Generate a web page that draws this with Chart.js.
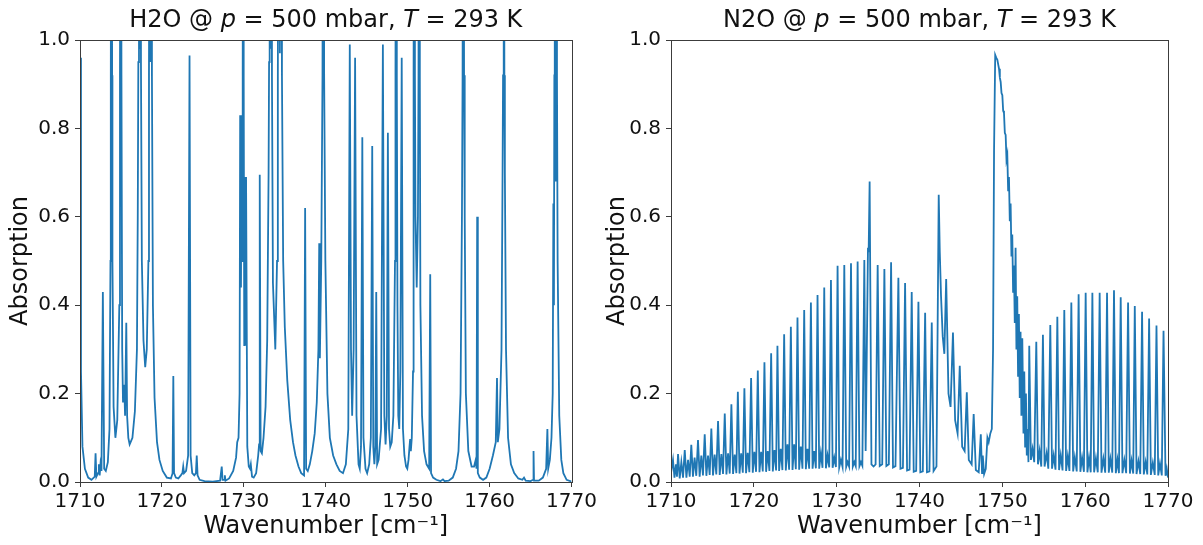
<!DOCTYPE html>
<html><head><meta charset="utf-8">
<script src="https://cdn.jsdelivr.net/npm/chart.js@4"></script>
<style>
html,body{margin:0;padding:0;background:#fff;}
#wrap{position:relative;width:1203px;height:545px;overflow:hidden;}
.box{position:absolute;top:0;height:545px;}
</style></head><body>
<div id="wrap">
<div class="box" style="left:0;width:600px"><canvas id="c1" width="600" height="545"></canvas></div>
<div class="box" style="left:600px;width:603px"><canvas id="c2" width="603" height="545"></canvas></div>
</div>
<script>
// ---- tick values ----
const wavenumberTicks = [1710, 1720, 1730, 1740, 1750, 1760, 1770];
const absorptionTicks = [0, 0.2, 0.4, 0.6, 0.8, 1.0];

// ---- H2O spectrum: [wavenumber (cm^-1), absorption] ----
const h2oSpectrum = [
[1710.00,0.96],[1710.12,0.25],[1710.3,0.08],[1710.6,0.03],[1711.0,0.01],[1711.4,0.005],[1711.8,0.012],[1711.9,0.065],[1712.0,0.012],
[1712.2,0.02],[1712.3,0.04],[1712.4,0.015],[1712.5,0.04],[1712.62,0.025],[1712.79,0.43],[1712.95,0.03],[1713.15,0.025],[1713.4,0.045],
[1713.6,0.12],[1713.72,0.5],[1713.76,0.92],[1713.84,2.0],[1713.92,0.92],[1713.96,0.5],[1714.1,0.17],[1714.32,0.10],[1714.55,0.14],
[1714.8,0.4],[1714.88,0.92],[1714.97,2.0],[1715.06,0.92],[1715.15,0.3],
[1715.25,0.18],[1715.4,0.22],[1715.5,0.15],[1715.65,0.36],[1715.75,0.15],[1715.9,0.1],[1716.06,0.085],[1716.4,0.1],
[1716.7,0.16],[1716.95,0.3],[1717.05,0.6],[1717.12,0.95],[1717.2,2.0],[1717.28,0.98],[1717.36,2.0],[1717.44,0.95],[1717.55,0.5],
[1717.75,0.32],[1717.96,0.26],[1718.15,0.3],[1718.35,0.5],[1718.42,0.92],[1718.5,2.0],[1718.6,0.95],[1718.7,2.0],[1718.78,0.92],
[1718.9,0.4],[1719.1,0.19],[1719.4,0.09],[1719.7,0.05],
[1720.1,0.025],[1720.6,0.01],[1721.1,0.008],[1721.3,0.02],[1721.39,0.24],[1721.48,0.02],[1721.7,0.01],[1722.0,0.008],[1722.3,0.015],
[1722.5,0.02],[1722.6,0.035],[1722.7,0.02],[1722.95,0.025],[1723.2,0.06],[1723.37,0.965],[1723.5,0.06],[1723.7,0.02],[1723.95,0.015],
[1724.15,0.02],[1724.25,0.06],[1724.35,0.015],[1724.6,0.005],[1725.2,0.002],[1726.2,0.001],[1727.1,0.003],[1727.3,0.035],[1727.4,0.005],
[1727.6,0.005],[1727.68,0.015],[1727.76,0.003],[1728.2,0.008],[1728.7,0.025],[1729.05,0.055],[1729.19,0.09],[1729.35,0.1],[1729.48,0.2],
[1729.55,0.83],[1729.65,0.44],[1729.72,0.8],[1729.8,0.5],[1729.86,0.92],[1729.92,2.0],[1729.98,0.92],[1730.05,0.31],[1730.12,0.69],
[1730.2,0.31],[1730.27,0.69],
[1730.42,0.08],[1730.6,0.035],[1730.75,0.03],[1730.85,0.04],[1731.0,0.012],[1731.2,0.01],[1731.5,0.02],[1731.75,0.06],[1731.86,0.085],
[1731.94,0.695],[1732.05,0.07],[1732.2,0.065],[1732.4,0.1],[1732.65,0.17],[1732.85,0.32],[1733.02,0.7],[1733.08,0.95],[1733.15,2.0],
[1733.25,0.98],[1733.35,2.0],[1733.43,0.92],[1733.55,0.45],[1733.84,0.30],[1734.05,0.5],[1734.15,0.92],[1734.25,2.0],[1734.4,0.97],
[1734.55,2.0],[1734.65,0.92],[1734.8,0.5],[1735.0,0.35],
[1735.3,0.23],[1735.66,0.14],[1736.0,0.09],[1736.3,0.06],[1736.67,0.035],[1737.0,0.02],[1737.35,0.015],[1737.48,0.62],[1737.6,0.03],
[1737.8,0.025],[1738.05,0.04],[1738.35,0.07],[1738.65,0.11],[1738.9,0.18],[1739.1,0.3],[1739.2,0.54],[1739.28,0.28],[1739.45,0.5],
[1739.6,0.92],[1739.7,2.0],[1739.8,0.92],[1739.95,0.5],[1740.2,0.2],[1740.5,0.1],[1740.9,0.06],[1741.3,0.04],[1741.7,0.025],[1742.1,0.02],
[1742.45,0.04],
[1742.75,0.12],[1742.93,0.99],[1743.08,0.3],[1743.22,0.15],[1743.4,0.3],[1743.58,0.96],[1743.75,0.15],[1744.0,0.04],[1744.15,0.03],
[1744.3,0.08],[1744.46,0.78],[1744.6,0.1],[1744.85,0.03],[1745.05,0.02],[1745.3,0.04],[1745.5,0.1],[1745.67,0.76],[1745.8,0.08],
[1745.93,0.04],[1746.05,0.08],[1746.16,0.43],[1746.27,0.04],[1746.45,0.05],[1746.75,0.12],[1746.97,0.99],[1747.15,0.15],[1747.3,0.085],
[1747.45,0.15],[1747.58,0.79],[1747.72,0.12],[1747.87,0.08],[1748.05,0.09],[1748.25,0.15],[1748.45,0.5],[1748.51,0.92],[1748.59,2.0],
[1748.67,0.92],[1748.75,0.4],
[1748.85,0.15],[1748.97,0.12],[1749.1,0.25],[1749.27,0.96],[1749.42,0.12],[1749.6,0.06],[1749.8,0.035],[1749.95,0.03],[1750.1,0.05],
[1750.22,0.08],[1750.3,0.097],[1750.38,0.07],[1750.5,0.1],[1750.65,0.25],[1750.72,0.92],[1750.8,2.0],[1750.88,0.92],[1750.95,0.6],
[1751.1,0.44],[1751.25,0.6],[1751.32,0.92],[1751.4,2.0],[1751.48,0.92],[1751.55,0.4],[1751.75,0.15],[1752.0,0.07],[1752.3,0.04],
[1752.62,0.03],[1752.75,0.47],[1752.85,0.02],[1753.1,0.01],
[1753.5,0.005],[1754.0,0.002],[1754.3,0.006],[1754.5,0.002],[1755.0,0.003],[1755.5,0.01],[1755.9,0.03],[1756.2,0.07],[1756.45,0.2],
[1756.62,0.6],[1756.7,0.92],[1756.79,2.0],[1756.88,0.92],[1756.96,0.6],[1757.1,0.2],[1757.4,0.07],[1757.8,0.035],[1758.1,0.035],
[1758.3,0.05],[1758.4,0.03],
[1758.48,0.6],[1758.56,0.02],[1758.8,0.01],[1759.2,0.005],[1759.6,0.01],[1760.0,0.03],[1760.4,0.06],[1760.75,0.09],[1760.9,0.235],
[1761.0,0.09],[1761.2,0.12],[1761.45,0.3],[1761.58,0.7],[1761.64,0.92],[1761.72,2.0],[1761.8,0.92],[1761.86,0.7],[1762.0,0.3],
[1762.25,0.1],[1762.6,0.04],
[1763.0,0.02],[1763.5,0.008],[1764.0,0.005],[1764.2,0.01],[1764.4,0.003],[1765.0,0.002],[1765.3,0.005],[1765.36,0.07],[1765.42,0.003],
[1766.0,0.003],[1766.5,0.01],[1766.9,0.03],[1767.05,0.12],[1767.15,0.03],[1767.35,0.05],[1767.55,0.1],[1767.7,0.2],[1767.78,0.63],
[1767.85,0.4],[1767.9,0.92],[1767.95,2.0],[1768.05,0.68],[1768.15,2.0],[1768.22,0.92],[1768.3,0.5],[1768.5,0.15],[1768.75,0.05],
[1769.0,0.02],[1769.4,0.005],
[1770.0,0.001]
];

// ---- N2O spectrum: [wavenumber (cm^-1), absorption] ----
const n2oSpectrum = [
[1710.00,0.02],[1710.24,0.05],[1710.42,0.01],[1710.6,0.04],[1710.72,0.012],
[1710.85,0.063],[1711.05,0.008],[1711.25,0.045],[1711.45,0.01],
[1711.66,0.072],[1711.86,0.01],[1712.06,0.05],[1712.26,0.012],
[1712.45,0.084],[1712.65,0.012],[1712.85,0.055],[1713.05,0.014],
[1713.26,0.095],[1713.46,0.012],[1713.66,0.06],[1713.86,0.015],
[1714.07,0.108],[1714.27,0.014],[1714.47,0.06],[1714.67,0.016],
[1714.87,0.121],[1715.07,0.015],[1715.27,0.062],[1715.47,0.017],
[1715.68,0.138],[1715.88,0.016],[1716.08,0.063],[1716.28,0.018],
[1716.49,0.155],[1716.69,0.017],[1716.89,0.065],[1717.09,0.019],
[1717.29,0.176],[1717.49,0.018],[1717.69,0.062],[1717.89,0.02],
[1718.07,0.204],[1718.27,0.019],[1718.47,0.065],[1718.67,0.021],
[1718.86,0.212],[1719.06,0.02],[1719.26,0.066],[1719.46,0.022],
[1719.67,0.235],[1719.87,0.021],[1720.07,0.068],[1720.27,0.023],
[1720.48,0.252],[1720.68,0.022],[1720.88,0.068],[1721.08,0.024],
[1721.28,0.271],[1721.48,0.023],[1721.68,0.07],[1721.88,0.025],
[1722.09,0.291],[1722.29,0.024],[1722.49,0.072],[1722.69,0.026],
[1722.85,0.308],[1723.05,0.025],[1723.25,0.075],[1723.45,0.027],
[1723.66,0.334],[1723.86,0.026],[1724.06,0.085],[1724.26,0.028],
[1724.47,0.351],[1724.67,0.027],[1724.87,0.085],[1725.07,0.029],
[1725.27,0.372],[1725.47,0.028],[1725.67,0.08],[1725.87,0.03],
[1726.08,0.389],[1726.28,0.029],[1726.48,0.075],[1726.68,0.03],
[1726.89,0.406],[1727.09,0.03],[1727.29,0.07],[1727.49,0.031],
[1727.69,0.423],[1727.89,0.03],[1728.09,0.065],[1728.29,0.032],
[1728.50,0.44],[1728.7,0.031],[1728.9,0.06],[1729.1,0.033],
[1729.31,0.457],[1729.51,0.032],[1729.71,0.055],[1729.91,0.034],
[1730.11,0.489],[1730.31,0.033],[1730.51,0.05],[1730.71,0.034],
[1730.92,0.491],[1731.15,0.034],[1731.32,0.045],[1731.5,0.035],
[1731.73,0.495],[1731.95,0.035],[1732.13,0.045],[1732.3,0.036],
[1732.53,0.499],[1732.75,0.036],[1732.93,0.045],[1733.1,0.037],
[1733.34,0.502],[1733.5,0.07],[1733.78,0.53],[1733.86,0.52],[1733.98,0.68],[1734.2,0.04],[1734.45,0.035],[1734.7,0.04],
[1734.95,0.491],[1735.2,0.036],[1735.5,0.04],
[1735.76,0.482],[1736.0,0.036],[1736.3,0.04],
[1736.57,0.497],[1736.8,0.033],[1737.1,0.036],
[1737.45,0.462],[1737.7,0.03],[1738.0,0.032],
[1738.26,0.45],[1738.5,0.026],[1738.8,0.028],
[1739.06,0.43],[1739.3,0.023],[1739.6,0.025],
[1739.87,0.408],[1740.1,0.022],[1740.4,0.024],
[1740.68,0.383],[1740.9,0.022],[1741.2,0.024],
[1741.48,0.361],[1741.7,0.025],[1742.05,0.035],
[1742.32,0.65],[1742.45,0.52],[1742.6,0.42],[1742.8,0.33],[1743.0,0.29],
[1743.22,0.459],[1743.5,0.2],[1743.75,0.17],
[1744.04,0.338],[1744.3,0.14],[1744.6,0.11],
[1744.86,0.263],[1745.15,0.08],[1745.45,0.07],
[1745.71,0.203],[1745.95,0.05],[1746.3,0.04],
[1746.54,0.154],[1746.8,0.027],[1747.15,0.022],
[1747.40,0.108],[1747.55,0.02],[1747.64,0.06],[1747.8,0.018],[1748.0,0.03],[1748.2,0.1],[1748.35,0.09],[1748.55,0.11],
[1748.73,0.12],[1748.88,0.3],[1749.0,0.75],[1749.14,0.966],[1749.26,0.96],
[1749.40,0.955],[1749.50,0.945],[1749.60,0.935],[1749.70,0.915],[1749.80,0.905],[1749.90,0.88],[1750.00,0.875],[1750.10,0.84],
[1750.20,0.835],[1750.30,0.79],[1750.40,0.785],[1750.50,0.73],[1750.60,0.74],[1750.70,0.66],[1750.80,0.69],[1750.90,0.59],
[1751.00,0.63],[1751.10,0.51],[1751.20,0.56],[1751.30,0.43],[1751.40,0.49],[1751.50,0.36],[1751.60,0.53],[1751.70,0.30],
[1751.80,0.42],[1751.90,0.24],[1752.00,0.38],[1752.10,0.19],[1752.20,0.34],[1752.30,0.15],
[1752.41,0.325],[1752.55,0.11],[1752.65,0.25],[1752.75,0.08],[1752.85,0.2],[1752.95,0.06],[1753.05,0.12],[1753.15,0.045],
[1753.25,0.308],[1753.45,0.05],[1753.65,0.075],[1753.85,0.045],
[1754.10,0.317],[1754.3,0.04],[1754.5,0.07],[1754.7,0.035],
[1754.90,0.333],[1755.1,0.035],[1755.35,0.065],[1755.55,0.03],
[1755.79,0.355],[1756.0,0.03],[1756.2,0.06],[1756.42,0.028],
[1756.64,0.374],[1756.85,0.027],[1757.05,0.06],[1757.27,0.026],
[1757.48,0.389],[1757.7,0.025],[1757.9,0.058],[1758.1,0.025],
[1758.33,0.406],[1758.55,0.024],[1758.75,0.056],[1758.98,0.024],
[1759.21,0.425],[1759.42,0.023],[1759.63,0.055],[1759.85,0.023],
[1760.06,0.428],[1760.27,0.022],[1760.47,0.055],[1760.67,0.022],
[1760.87,0.428],[1761.08,0.022],[1761.3,0.054],[1761.52,0.022],
[1761.75,0.428],[1761.97,0.021],[1762.2,0.053],[1762.42,0.021],
[1762.64,0.428],[1762.85,0.021],[1763.05,0.052],[1763.27,0.021],
[1763.48,0.434],[1763.7,0.02],[1763.9,0.05],[1764.08,0.02],
[1764.29,0.418],[1764.5,0.02],[1764.73,0.05],[1764.95,0.02],
[1765.18,0.406],[1765.4,0.019],[1765.6,0.048],[1765.8,0.019],
[1765.99,0.398],[1766.2,0.018],[1766.43,0.047],[1766.65,0.018],
[1766.87,0.385],[1767.08,0.017],[1767.3,0.045],[1767.5,0.017],
[1767.72,0.37],[1767.93,0.016],[1768.17,0.044],[1768.4,0.016],
[1768.61,0.354],[1768.82,0.015],[1769.03,0.042],[1769.25,0.015],
[1769.46,0.342],[1769.7,0.014],[1769.85,0.03],[1770.0,0.01]
];

const FONT = "'DejaVu Sans', 'Liberation Sans', sans-serif";
const LINE_COLOR = '#1f77b4';
const AXIS_COLOR = '#3c3c3c';

function titlePlugin(parts) {
  return {
    id: 'mplTitle',
    afterDraw(chart) {
      const ctx = chart.ctx, a = chart.chartArea;
      ctx.save();
      ctx.fillStyle = '#111';
      ctx.textBaseline = 'alphabetic';
      const fonts = parts.map(p => (p[1] ? 'italic ' : '') + '24px ' + FONT);
      let total = 0;
      const widths = parts.map((p, i) => { ctx.font = fonts[i]; const w = ctx.measureText(p[0]).width; total += w; return w; });
      let x = (a.left + a.right) / 2 - total / 2;
      parts.forEach((p, i) => { ctx.font = fonts[i]; ctx.fillText(p[0], x, 27); x += widths[i]; });
      // axes frame
      ctx.strokeStyle = AXIS_COLOR;
      ctx.lineWidth = 1;
      ctx.strokeRect(Math.round(a.left) + 0.5, Math.round(a.top) + 0.5, Math.round(a.right - a.left), Math.round(a.bottom - a.top));
      ctx.restore();
    }
  };
}

function makeChart(id, spectrum, parts, yWidth, padRight, yTitlePad) {
  const points = spectrum.map(p => ({ x: p[0], y: p[1] }));
  return new Chart(document.getElementById(id), {
    type: 'line',
    data: { datasets: [{ data: points, borderColor: LINE_COLOR, borderWidth: 1.8, pointRadius: 0, tension: 0, fill: false, clip: 0 }] },
    options: {
      responsive: false, animation: false, events: [],
      layout: { padding: { top: 40, right: padRight, left: 0, bottom: 0 } },
      plugins: { legend: { display: false }, tooltip: { enabled: false }, title: { display: false } },
      scales: {
        x: {
          type: 'linear', min: 1710, max: 1770,
          afterBuildTicks: s => { s.ticks = wavenumberTicks.map(v => ({ value: v })); },
          afterFit: s => { s.height = 63; },
          ticks: { callback: v => String(v), font: { family: FONT, size: 20 }, color: '#111', padding: 3, maxRotation: 0, autoSkip: false },
          grid: { drawOnChartArea: false, drawTicks: true, tickLength: 5, color: AXIS_COLOR, lineWidth: 1 },
          border: { display: false },
          title: { display: true, text: 'Wavenumber [cm⁻¹]', font: { family: FONT, size: 24 }, color: '#111', padding: { top: 0, bottom: 4 } }
        },
        y: {
          type: 'linear', min: 0, max: 1,
          afterBuildTicks: s => { s.ticks = absorptionTicks.map(v => ({ value: v })); },
          afterFit: s => { s.width = yWidth; },
          ticks: { callback: v => Number(v).toFixed(1), font: { family: FONT, size: 20 }, color: '#111', padding: 5 },
          grid: { drawOnChartArea: false, drawTicks: true, tickLength: 5, color: AXIS_COLOR, lineWidth: 1 },
          border: { display: false },
          title: { display: true, text: 'Absorption', font: { family: FONT, size: 24 }, color: '#111', padding: { top: yTitlePad, bottom: 0 } }
        }
      }
    },
    plugins: [titlePlugin(parts)]
  });
}

makeChart('c1', h2oSpectrum, [['H2O @ ', false], ['p', true], [' = 500 mbar, ', false], ['T', true], [' = 293 K', false]], 80, 25, 6);
makeChart('c2', n2oSpectrum, [['N2O @ ', false], ['p', true], [' = 500 mbar, ', false], ['T', true], [' = 293 K', false]], 71, 35, 3);
</script>
</body></html>
